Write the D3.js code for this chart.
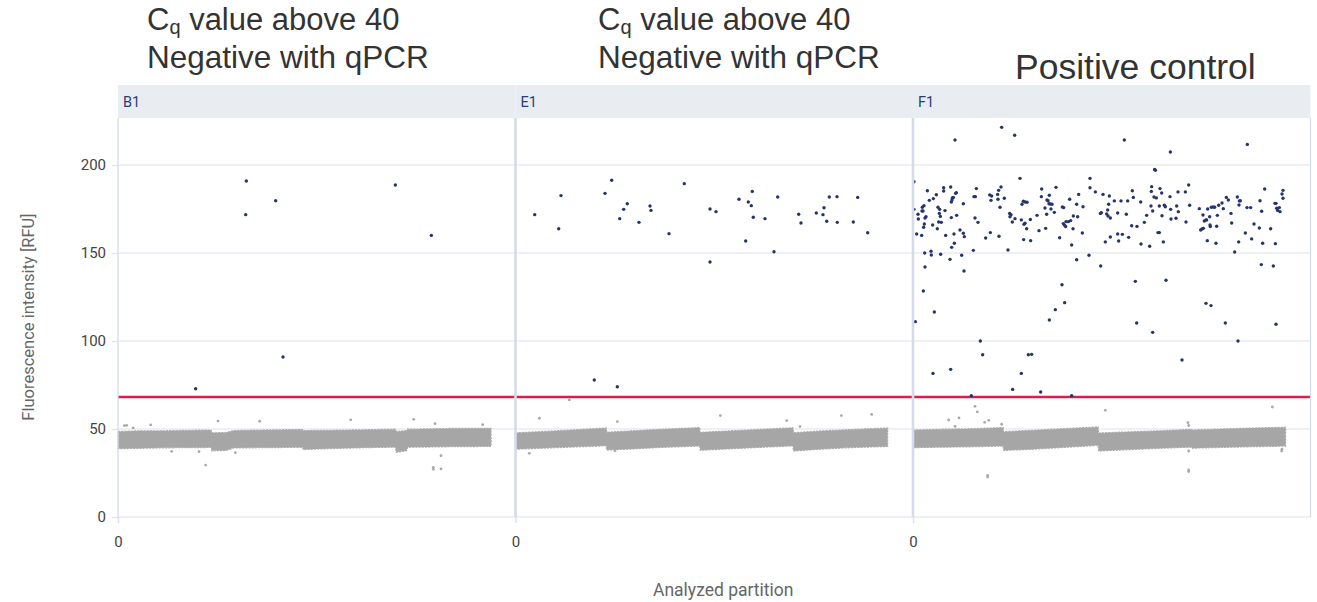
<!DOCTYPE html>
<html><head><meta charset="utf-8">
<script src="https://cdn.jsdelivr.net/npm/d3@7"></script>
<style>body{margin:0;background:#fff;}svg{display:block;}</style>
</head><body>
<svg id="chart" width="1317" height="602"></svg>
<script>
// ---------- data ----------
const wells = ["B1", "E1", "F1"];
const yTicks = [0, 50, 100, 150, 200];
const xTicks = [0];
const xMax = 26500;
const yMax = 226.7;
const threshold = 68.2;
const annotationLine1 = ["value above 40", "value above 40", ""];
const annotationLine2 = ["Negative with qPCR", "Negative with qPCR", "Positive control"];

// positive partitions [partition, RFU]
const b1Positive = [[8555,190.9],[8513,171.8],[10513,179.7],[18489,188.6],[20889,160.0],[11000,90.9],[5178,72.9]];
const e1Positive = [[1280,171.8],[3033,182.6],[2880,163.8],[6413,191.3],[5967,183.9],[7453,178.0],[7213,174.8],[6947,169.5],
 [8233,167.4],[8967,176.7],[9033,174.2],[10233,161.0],[11253,189.4],[12967,175.0],[13367,173.5],[12967,144.9],[14900,180.5],
 [15520,179.0],[15787,185.0],[15720,176.9],[15853,170.3],[15347,156.8],[16633,169.5],[17233,150.7],[17480,181.8],[18880,172.0],
 [19033,167.0],[20053,172.7],[20567,175.7],[20500,171.8],[20747,168.0],[20920,181.8],[21433,182.0],[21453,167.4],[22520,167.6],
 [22813,181.6],[23480,161.5],[5253,77.8],[6787,74.0]];
const f1Positive = [[2800,214.2],[5911,221.4],[6778,216.9],[14089,214.2],[17156,207.4],[22289,211.7],[16111,197.5],[16156,197.0],
 [7133,192.4],[11800,192.4],[18378,188.6],[67,190.5],[67,174.8],[333,172.0],[356,169.3],[600,173.9],[667,173.9],[733,176.9],
 [622,176.0],[867,170.6],[800,169.9],[756,166.5],[711,164.6],[956,185.4],[1089,179.9],[1356,180.9],[1311,165.9],[1556,183.1],
 [1622,163.8],[1667,176.0],[1778,174.8],[1756,172.5],[1822,170.8],[1711,167.6],[1889,167.4],[2044,187.1],[2044,185.2],[2133,174.1],
 [2178,160.0],[244,160.8],[578,160.0],[778,150.0],[800,142.0],[689,128.4],[156,111.0],[1200,151.0],[1222,148.9],[1422,116.5],
 [1333,81.6],[1844,149.3],[2467,146.4],[2511,187.5],[2556,179.0],[2600,180.1],[2622,181.3],[2689,181.6],[2844,183.9],[2889,184.3],
 [2556,170.1],[2578,153.2],[2733,160.8],[2756,155.5],[2911,171.4],[3133,163.1],[3244,148.7],[3356,161.2],[3422,159.3],[3356,178.0],
 [3400,139.8],[2511,83.9],[4022,151.5],[4067,182.0],[4156,182.0],[4222,186.6],[4133,169.9],[4333,167.4],[4489,100.0],[4644,92.2],
 [3889,68.9],[4844,158.5],[5156,161.6],[5111,183.0],[5244,182.4],[5200,179.9],[5667,180.5],[5644,183.3],[5711,185.6],[5867,187.5],
 [6089,181.1],[5733,159.5],[5800,176.0],[6333,151.7],[6444,172.5],[6533,171.8],[6467,170.6],[6622,167.6],[6800,169.5],[7222,168.8],
 [7267,177.7],[7356,179.4],[7467,179.0],[7600,178.8],[7400,166.3],[7467,166.9],[7578,163.8],[7378,157.6],[7844,157.0],[7822,169.0],
 [8267,171.4],[8400,162.7],[8578,186.4],[8556,182.0],[8844,164.0],[8800,175.6],[8933,180.1],[9000,179.7],[9067,178.0],[9156,177.8],
 [9267,177.7],[9200,175.0],[8911,172.0],[9089,182.8],[9422,173.1],[9533,187.3],[9778,158.7],[9956,176.1],[10044,175.8],[10022,166.7],
 [10111,165.7],[10200,167.8],[10178,165.0],[10356,167.8],[10511,168.4],[10444,180.5],[10578,154.5],[10667,163.8],[10689,171.0],
 [10911,177.7],[10978,170.6],[11044,183.3],[10911,146.2],[11289,161.4],[11333,176.3],[11733,148.7],[11800,187.1],[12156,184.7],
 [12511,142.6],[12489,172.5],[12556,172.9],[12667,183.3],[12822,156.3],[12911,172.2],[12978,174.4],[13000,171.0],[13044,177.7],
 [13089,182.4],[13156,169.9],[13156,159.1],[13422,179.6],[13644,172.7],[13644,160.8],[13711,156.8],[13867,179.6],[13956,160.6],
 [14222,172.0],[14311,179.6],[14378,158.9],[14622,185.4],[14578,165.5],[14689,181.6],[14933,165.1],[15178,179.0],[15200,155.1],
 [15422,167.4],[15578,171.4],[15778,153.8],[15867,176.7],[15911,187.7],[15889,185.0],[15978,173.9],[16067,181.8],[16222,181.3],
 [16333,161.6],[16422,161.6],[16422,176.7],[16467,186.6],[16578,184.1],[16600,171.2],[16689,156.3],[16756,177.1],[16822,176.3],
 [17178,174.8],[17200,169.3],[17133,182.0],[17533,169.7],[17578,176.7],[17689,173.5],[17667,184.7],[18156,184.7],[18200,167.6],
 [18444,177.1],[19089,175.2],[19178,163.1],[19267,163.6],[19356,164.0],[19333,171.6],[19422,168.2],[19533,168.8],[19578,168.8],
 [19644,175.0],[19622,157.0],[19800,165.9],[19822,165.0],[19778,170.6],[19889,176.0],[20022,176.1],[20111,176.0],[20200,155.5],
 [20244,165.2],[20289,171.4],[20378,177.1],[20600,178.4],[20689,175.2],[20889,181.6],[21022,180.1],[21200,172.5],[21244,167.0],
 [21444,150.6],[21622,181.8],[21756,179.6],[21822,179.7],[21733,177.3],[21711,156.3],[22156,161.4],[22267,175.8],[22511,175.8],
 [22578,158.0],[22733,166.5],[23089,164.2],[23133,179.7],[23244,173.7],[23311,155.5],[23444,186.4],[23844,163.8],[24133,178.2],
 [24200,178.2],[24156,155.3],[24244,175.4],[24311,174.2],[24422,175.8],[24467,173.5],[24600,183.5],[24667,185.6],[24667,181.1],
 [9933,132.0],[10111,121.8],[9489,117.8],[9089,111.9],[7689,92.2],[7911,92.4],[7222,81.6],[6644,72.5],[8511,71.0],[10578,68.9],
 [14822,133.9],[14911,110.2],[15978,104.9],[16867,134.5],[17933,89.2],[19533,121.4],[19867,120.1],[20822,110.2],[21667,100.0],
 [23222,143.4],[24022,142.6],[24200,109.5]];

// negative partition band [partition, low RFU, high RFU]
const b1Band = [[0,38.8,48.6],[1500,39.0,49.0],[3200,39.3,49.0],[5000,39.4,49.3],[6200,39.5,49.4],[6250,37.6,47.8],[7200,37.8,48.0],
 [7700,39.2,49.1],[10000,39.4,49.5],[12300,39.6,49.7],[12350,38.3,49.1],[14300,38.9,49.3],[16500,39.4,49.6],[18500,39.7,49.9],
 [18550,36.8,48.6],[19250,37.6,49.1],[19300,39.6,49.9],[22000,39.9,50.3],[24870,40.1,50.4]];
const e1Band = [[0,38.5,47.8],[1600,39.0,48.5],[3400,39.6,49.3],[6050,40.5,50.6],[6080,38.0,48.2],[7850,38.7,49.0],[9630,39.5,49.8],
 [12280,40.3,50.8],[12310,37.9,48.1],[15860,39.4,49.6],[18500,40.4,50.7],[18530,37.5,47.9],[20300,38.5,48.9],[22080,39.3,49.6],
 [24810,40.1,50.6]];
const f1Band = [[0,39.4,49.4],[2000,39.7,49.9],[4000,39.9,50.2],[6010,40.3,50.8],[6040,37.8,48.5],[8000,38.5,49.3],[10000,39.5,50.2],
 [12340,40.7,51.2],[12370,37.5,47.7],[14500,38.3,48.4],[16500,39.0,49.0],[18560,39.7,49.8],[18600,39.1,49.5],[20500,39.5,50.0],
 [22500,39.9,50.5],[24840,40.3,51.0]];

// negative outliers [partition, RFU]
const b1Negative = [[422,51.9],[578,52.1],[1011,50.6],[2178,52.3],[6667,54.5],[9444,54.4],[15511,55.2],[19711,55.5],[21133,53.0],
 [24311,52.4],[5844,29.5],[5400,37.1],[3578,37.3],[7822,36.6],[21533,34.8],[21022,28.2],[21022,27.1],[21533,27.3]];
const e1Negative = [[3589,66.5],[1589,56.1],[6789,54.2],[13656,57.6],[18078,54.8],[18967,51.4],[21722,57.6],[23744,58.3],
 [922,36.2],[6633,37.7]];
const f1Negative = [[4133,62.9],[4289,59.7],[2378,55.1],[3067,56.3],[2800,51.5],[4778,53.8],[5044,54.9],[5911,52.7],[12822,60.6],
 [23956,62.5],[4978,23.7],[4978,22.7],[18378,26.7],[18378,25.8],[18330,53.6],[18380,52.0],[18380,37.5],[24580,37.5],[24600,38.5]];

const positives = [b1Positive, e1Positive, f1Positive];
const bands = [b1Band, e1Band, f1Band];
const negatives = [b1Negative, e1Negative, f1Negative];

// ---------- layout ----------
const svg = d3.select("#chart");
const plotTop = 118, plotBottom = 517, stripTop = 85;
const panel = d3.scaleBand().domain(wells).range([118, 1310.5]).paddingInner(0);
const y = d3.scaleLinear().domain([0, yMax]).range([plotBottom, plotTop]);
const gridColor = "#dde1ee";
const tickFont = "Roboto, 'Noto Sans', sans-serif";

// strip headers
svg.selectAll("rect.strip").data(wells).join("rect")
  .attr("x", d => panel(d)).attr("y", stripTop)
  .attr("width", panel.bandwidth()).attr("height", plotTop - stripTop)
  .attr("fill", "#e9edf2");
svg.selectAll("text.strip").data(wells).join("text")
  .attr("x", d => panel(d) + 5).attr("y", 106.5)
  .attr("font-family", tickFont).attr("font-size", 14.5)
  .attr("fill", "#2c3d75").text(d => d);

wells.forEach((w, i) => {
  const x = d3.scaleLinear().domain([0, xMax]).range([panel(w), panel(w) + panel.bandwidth()]);
  const g = svg.append("g");
  // gridlines
  g.selectAll("line.grid").data(yTicks).join("line")
    .attr("x1", x(0)).attr("x2", x(xMax))
    .attr("y1", d => y(d)).attr("y2", d => y(d))
    .attr("stroke", gridColor).attr("stroke-width", 1.2);
  // x axis
  const xa = g.append("g").attr("transform", `translate(0,${plotBottom})`)
    .call(d3.axisBottom(x).tickValues(xTicks).tickSize(6).tickPadding(13).tickFormat(d3.format("d")));
  xa.select(".domain").remove();
  xa.selectAll("line").attr("stroke", gridColor).attr("stroke-width", 1.5);
  xa.selectAll("text").attr("font-family", tickFont).attr("font-size", 15).attr("fill", "#444");
  // negative band
  const area = d3.area().x(d => x(d[0])).y0(d => y(d[1])).y1(d => y(d[2])).curve(d3.curveLinear);
  g.append("path").datum(bands[i]).attr("d", area)
    .attr("fill", "#a6a6a6").attr("stroke", "#aaaaaa").attr("stroke-width", 1.2)
    .attr("stroke-dasharray", "2 1.2");
  g.selectAll("circle.neg").data(negatives[i]).join("circle")
    .attr("cx", d => x(d[0])).attr("cy", d => y(d[1])).attr("r", 1.4).attr("fill", "#a9a9a9");
  // threshold
  g.append("line").attr("x1", x(0)).attr("x2", x(xMax))
    .attr("y1", y(threshold)).attr("y2", y(threshold))
    .attr("stroke", "#dc1e4b").attr("stroke-width", 2.6);
  // positives
  g.selectAll("circle.pos").data(positives[i]).join("circle")
    .attr("cx", d => x(d[0])).attr("cy", d => y(d[1])).attr("r", 1.7).attr("fill", "#25346b");
  // panel left line
  g.append("line").attr("x1", x(0)).attr("x2", x(0)).attr("y1", plotTop).attr("y2", plotBottom)
    .attr("stroke", "#d6dbeb").attr("stroke-width", i === 0 ? 1.3 : 2.6);
  if (i === wells.length - 1) {
    g.append("line").attr("x1", x(xMax)).attr("x2", x(xMax)).attr("y1", plotTop).attr("y2", plotBottom)
      .attr("stroke", "#d6dbeb").attr("stroke-width", 1.3);
  }
});

// y axis
const ya = svg.append("g").attr("transform", `translate(${panel(wells[0])},0)`)
  .call(d3.axisLeft(y).tickValues(yTicks).tickSize(6).tickPadding(6));
ya.select(".domain").remove();
ya.selectAll("line").attr("stroke", gridColor).attr("stroke-width", 1.2);
ya.selectAll("text").attr("font-family", tickFont).attr("font-size", 15).attr("fill", "#444");

// axis titles
svg.append("text").attr("transform", "translate(34,317) rotate(-90)")
  .attr("text-anchor", "middle").attr("font-family", tickFont).attr("font-size", 16.5)
  .attr("fill", "#666").text("Fluorescence intensity [RFU]");
svg.append("text").attr("x", (panel(wells[0]) + panel(wells[2]) + panel.bandwidth()) / 2 + 9).attr("y", 596)
  .attr("text-anchor", "middle").attr("font-family", tickFont).attr("font-size", 17.5)
  .attr("fill", "#666").text("Analyzed partition");

// annotations above panels
const annX = [147, 598, 1015];
const titleFont = "'Liberation Sans', Arial, sans-serif";
wells.forEach((w, i) => {
  if (annotationLine1[i]) {
    const t = svg.append("text").attr("x", annX[i]).attr("y", 30)
      .attr("font-family", titleFont).attr("font-size", 31).attr("fill", "#333");
    t.append("tspan").text("C");
    t.append("tspan").attr("font-size", 20).attr("dy", 4).text("q");
    t.append("tspan").attr("dy", -4).text(" " + annotationLine1[i]);
  }
  svg.append("text").attr("x", annX[i]).attr("y", i === 2 ? 79 : 68)
    .attr("font-family", titleFont).attr("font-size", i === 2 ? 35.5 : 31.5).attr("fill", "#333")
    .text(annotationLine2[i]);
});
</script>
</body></html>
